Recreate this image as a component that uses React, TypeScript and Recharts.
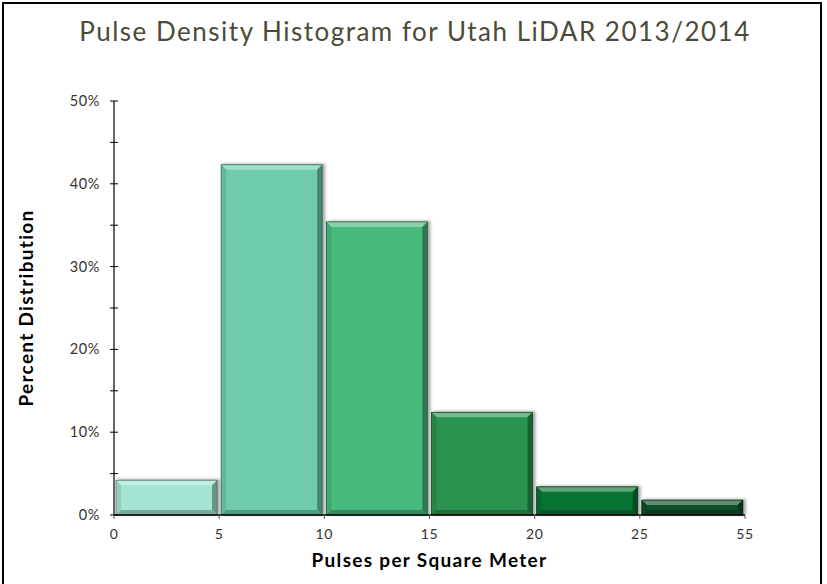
import React from 'react'
import { BarChart, Bar, XAxis, YAxis, Cell } from 'recharts'

// bins of pulses per square meter, edges shown on the x axis
const BIN_EDGES = [0, 5, 10, 15, 20, 25, 55]
const BIN_NAMES = ['0-5', '5-10', '10-15', '15-20', '20-25', '25-55']
const PERCENTS = [4.2, 42.3, 35.4, 12.4, 3.4, 1.8]
const Y_TICKS = [0, 5, 10, 15, 20, 25, 30, 35, 40, 45, 50]
const BIN_COLORS = ['#a4e4d3', '#6fcdae', '#48b97d', '#2a934f', '#087434', '#0f4f27']

// each bin sits between edge index i and i + 1 on an evenly spaced axis
const data = BIN_NAMES.map((name, i) => ({ name, mid: i + 0.5, pct: PERCENTS[i] }))
const EDGE_IDX = BIN_EDGES.map((_, i) => i)

const FONT = 'Lato, "Open Sans", sans-serif'

function mix(hex: string, target: number, amt: number): string {
  const n = parseInt(hex.slice(1), 16)
  const ch = [(n >> 16) & 255, (n >> 8) & 255, n & 255].map((c) => Math.round(c + (target - c) * amt))
  return `rgb(${ch[0]},${ch[1]},${ch[2]})`
}

function BevelBar(props: any) {
  const { x, y, width: w, height: h, fill } = props
  if (!h || h <= 0) return null
  const b = Math.min(5, h / 2)
  return (
    <g>
      <rect x={x + 2} y={y - 1} width={w + 1} height={h + 1} fill="rgba(0,0,0,0.35)" filter="url(#barShadow)" />
      <rect x={x} y={y} width={w} height={h} fill={fill} />
      <polygon points={`${x},${y} ${x + w},${y} ${x + w - b},${y + b} ${x + b},${y + b}`} fill={mix(fill, 255, 0.35)} />
      <polygon points={`${x + w},${y} ${x + w},${y + h} ${x + w - b},${y + h - b} ${x + w - b},${y + b}`} fill={mix(fill, 0, 0.35)} />
      <polygon points={`${x},${y} ${x + b},${y + b} ${x + b},${y + h - b} ${x},${y + h}`} fill={mix(fill, 0, 0.1)} />
      <polygon points={`${x},${y + h} ${x + b},${y + h - b} ${x + w - b},${y + h - b} ${x + w},${y + h}`} fill={mix(fill, 0, 0.25)} />
      <rect x={x} y={y} width={w} height={h} fill="none" stroke={mix(fill, 0, 0.5)} strokeWidth={0.8} />
    </g>
  )
}

function YTick(props: any) {
  const { x, y, payload } = props
  const axisX = x + 4 + 10
  const major = payload.value % 10 === 0
  return (
    <g>
      <line x1={axisX} x2={axisX + 4} y1={y} y2={y} stroke="#000" />
      {major && (
        <text x={x} y={y} dy={5} textAnchor="end" fill="#333" fontSize={14.5} letterSpacing={0.6} fontFamily={FONT}>
          {`${payload.value}%`}
        </text>
      )}
    </g>
  )
}

export default function App() {
  return (
    <div style={{ position: 'absolute', left: 0, top: 0, width: 827, height: 584, overflow: 'hidden', background: '#fff' }}>
      <div
        style={{
          position: 'absolute',
          left: 2,
          top: 2,
          width: 816,
          height: 620,
          border: '2.5px solid #000',
        }}
      />
      <div
        style={{
          position: 'absolute',
          left: 0,
          top: 15,
          width: 830,
          textAlign: 'center',
          fontFamily: FONT,
          fontSize: 26,
          letterSpacing: 1.5,
          color: '#4b4b38',
        }}
      >
        Pulse Density Histogram for Utah LiDAR 2013/2014
      </div>
      <div style={{ position: 'absolute', left: 0, top: 0 }}>
        <BarChart width={827} height={584} data={data} margin={{ top: 101, right: 82, bottom: 0, left: 0 }} barCategoryGap={2}>
          <defs>
            <filter id="barShadow" x="-10%" y="-10%" width="130%" height="130%">
              <feGaussianBlur stdDeviation="1.5" />
            </filter>
          </defs>
          <XAxis
            dataKey="mid"
            type="number"
            domain={[0, 6]}
            ticks={EDGE_IDX}
            tickFormatter={(v: number) => String(BIN_EDGES[v])}
            interval={0}
            height={69}
            axisLine={{ stroke: '#000', strokeWidth: 1.5 }}
            tickLine={{ stroke: '#555' }}
            tickSize={4}
            tickMargin={10}
            tick={{ fill: '#333', fontSize: 14, letterSpacing: 0.6, fontFamily: FONT }}
            label={{
              content: (p: any) => {
                const vb = p.viewBox
                return (
                  <text x={vb.x + vb.width / 2} y={vb.y + 52} textAnchor="middle" fill="#000" fontSize={19} letterSpacing={1.3} fontWeight={700} fontFamily={FONT}>
                    Pulses per Square Meter
                  </text>
                )
              },
            }}
          />
          <YAxis
            domain={[0, 50]}
            ticks={Y_TICKS}
            interval={0}
            width={114}
            axisLine={{ stroke: '#000', strokeWidth: 1.2 }}
            tickLine={{ stroke: '#000' }}
            tickSize={4}
            tickMargin={10}
            tick={<YTick />}
            label={{
              content: (p: any) => {
                const vb = p.viewBox
                const cx = vb.x + 33
                const cy = vb.y + vb.height / 2
                return (
                  <text x={cx} y={cy} transform={`rotate(-90 ${cx} ${cy})`} textAnchor="middle" fill="#000" fontSize={19} letterSpacing={1.3} fontWeight={700} fontFamily={FONT}>
                    Percent Distribution
                  </text>
                )
              },
            }}
          />
          <Bar dataKey="pct" isAnimationActive={false} shape={<BevelBar />}>
            {data.map((d, i) => (
              <Cell key={d.name} fill={BIN_COLORS[i]} />
            ))}
          </Bar>
        </BarChart>
      </div>
    </div>
  )
}
